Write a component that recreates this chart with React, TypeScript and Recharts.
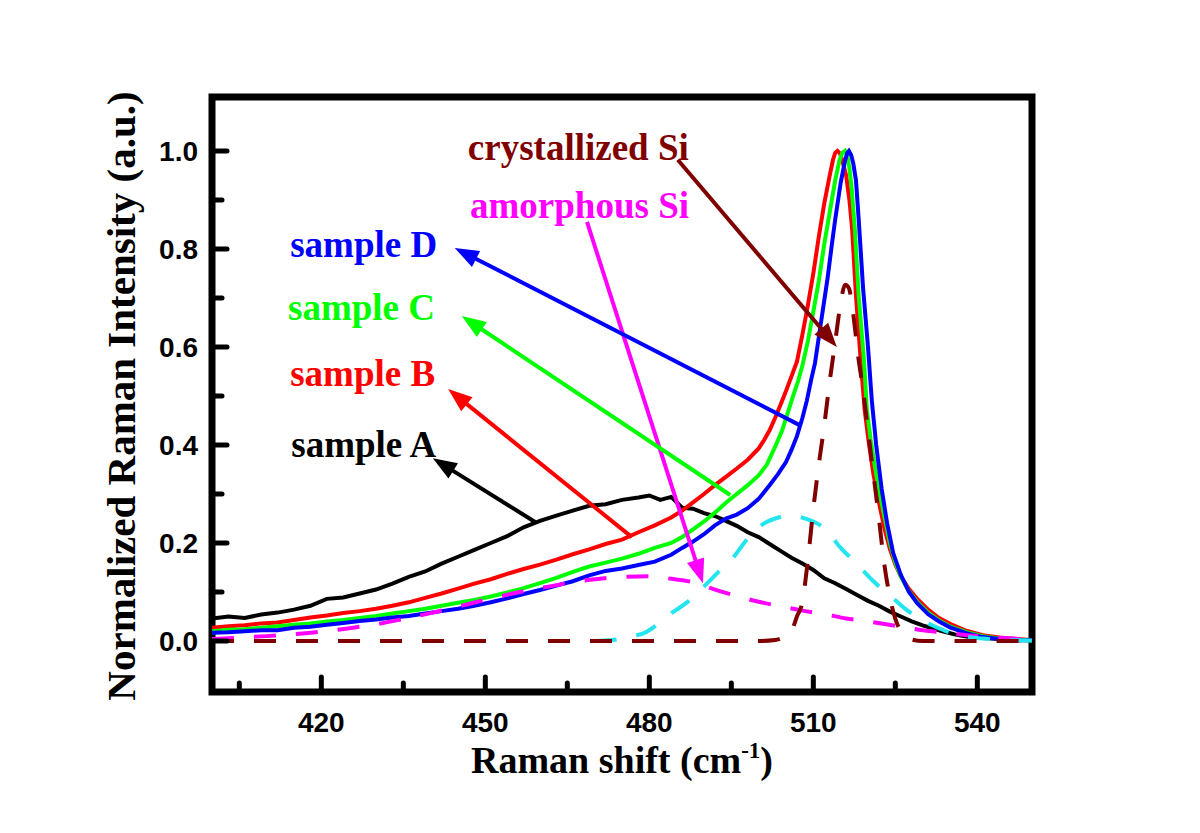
import React from "react";
import {
  LineChart,
  Line,
  XAxis,
  YAxis,
  ReferenceArea,
  ReferenceLine,
  ReferenceDot,
} from "recharts";

// Raman spectra, [shift (cm-1), normalized intensity]
const sampleA: [number, number][] = [
  [400, 0.046], [403, 0.05], [406, 0.047], [409, 0.054], [412, 0.058], [415, 0.064],
  [418, 0.072], [421, 0.086], [424, 0.089], [427, 0.097], [430, 0.105], [433, 0.117],
  [436, 0.131], [439, 0.142], [442, 0.158], [445, 0.172], [448, 0.186], [451, 0.2],
  [454, 0.214], [457, 0.232], [460, 0.245], [463, 0.256], [466, 0.266], [469, 0.276],
  [472, 0.279], [475, 0.288], [478, 0.293], [480, 0.297], [482, 0.288], [484, 0.294],
  [486, 0.272], [488, 0.27], [490, 0.261], [492, 0.255], [494, 0.245], [496, 0.235],
  [498, 0.222], [500, 0.212], [502, 0.198], [504, 0.184], [506, 0.17], [508, 0.158],
  [510, 0.145], [512, 0.128], [514, 0.118], [516, 0.106], [518, 0.094], [520, 0.082],
  [522, 0.072], [524, 0.06], [526, 0.05], [528, 0.04], [530, 0.032], [532, 0.025],
  [534, 0.019], [536, 0.013], [538, 0.009], [541, 0.006], [544, 0.004], [547, 0.003],
  [550, 0.001],
];

const sampleB: [number, number][] = [
  [400, 0.027], [403, 0.03], [406, 0.032], [409, 0.036], [412, 0.038], [415, 0.043],
  [418, 0.048], [421, 0.052], [424, 0.057], [427, 0.061], [430, 0.066], [433, 0.072],
  [436, 0.079], [439, 0.088], [442, 0.097], [445, 0.107], [448, 0.117], [451, 0.126],
  [454, 0.137], [457, 0.147], [460, 0.156], [463, 0.166], [466, 0.177], [469, 0.187],
  [472, 0.198], [475, 0.207], [478, 0.222], [481, 0.236], [484, 0.252], [486, 0.266],
  [488, 0.283], [490, 0.3], [492, 0.318], [494, 0.335], [496, 0.352], [498, 0.37],
  [500, 0.393], [501, 0.41], [502, 0.43], [503, 0.455], [504, 0.482], [505, 0.51],
  [506, 0.54], [507, 0.57], [508, 0.625], [509, 0.685], [510, 0.75], [511, 0.825],
  [512, 0.893], [513, 0.95], [513.6, 0.982], [514, 0.996], [514.4, 1.0], [514.8, 0.996],
  [515.2, 0.985], [516, 0.95], [516.6, 0.9], [517.1, 0.84], [517.8, 0.705], [518.7, 0.567],
  [519.4, 0.471], [520.2, 0.4], [521, 0.34], [522, 0.283], [523, 0.23], [524, 0.188],
  [525, 0.156], [526, 0.132], [527.5, 0.106], [529, 0.086], [531, 0.064], [533, 0.047],
  [535, 0.035], [538, 0.021], [541, 0.012], [544, 0.007], [547, 0.004], [550, 0.002],
];

const sampleC: [number, number][] = [
  [400, 0.02], [403, 0.023], [406, 0.024], [409, 0.027], [412, 0.03], [415, 0.033],
  [418, 0.036], [421, 0.04], [424, 0.043], [427, 0.047], [430, 0.051], [433, 0.056],
  [436, 0.061], [439, 0.066], [442, 0.072], [445, 0.078], [448, 0.084], [451, 0.091],
  [454, 0.099], [457, 0.108], [460, 0.118], [463, 0.129], [466, 0.141], [469, 0.152],
  [472, 0.16], [475, 0.168], [478, 0.178], [481, 0.19], [484, 0.2], [486, 0.212],
  [488, 0.228], [490, 0.244], [492, 0.262], [494, 0.282], [496, 0.3], [498, 0.318],
  [500, 0.338], [501.5, 0.36], [503, 0.396], [504.3, 0.43], [505.3, 0.465], [506.3, 0.5],
  [507.2, 0.53], [508, 0.562], [509, 0.612], [510, 0.672], [511, 0.735], [512, 0.81],
  [513, 0.875], [514, 0.94], [514.8, 0.982], [515.3, 0.996], [515.8, 1.0], [516.2, 0.99],
  [516.6, 0.965], [517, 0.925], [517.6, 0.839], [518.3, 0.703], [519.3, 0.567],
  [519.8, 0.471], [520.5, 0.41], [521.5, 0.34], [522.7, 0.27], [524, 0.2], [525, 0.16],
  [526, 0.132], [527.5, 0.101], [529, 0.08], [531, 0.058], [533, 0.042], [535, 0.03],
  [538, 0.018], [541, 0.01], [544, 0.005], [547, 0.003], [550, 0.001],
];

const sampleD: [number, number][] = [
  [400, 0.017], [403, 0.018], [406, 0.02], [409, 0.022], [412, 0.022], [415, 0.027],
  [418, 0.029], [421, 0.033], [424, 0.037], [427, 0.041], [430, 0.044], [433, 0.048],
  [436, 0.051], [439, 0.056], [442, 0.061], [445, 0.066], [448, 0.072], [451, 0.079],
  [454, 0.087], [457, 0.096], [460, 0.104], [463, 0.113], [466, 0.122], [469, 0.134],
  [472, 0.143], [475, 0.148], [478, 0.155], [481, 0.162], [484, 0.176], [486, 0.19],
  [488, 0.203], [490, 0.218], [492, 0.236], [494, 0.25], [496, 0.258], [498, 0.271],
  [500, 0.29], [502, 0.318], [503.5, 0.34], [505, 0.365], [506, 0.39], [507, 0.418],
  [508, 0.455], [508.8, 0.49], [509.6, 0.533], [510.3, 0.567], [511.4, 0.65],
  [512.6, 0.74], [513.4, 0.81], [514, 0.86], [515, 0.935], [515.8, 0.98], [516.2, 0.996],
  [516.5, 1.0], [516.9, 0.992], [517.3, 0.975], [517.8, 0.94], [518.3, 0.86], [519.1, 0.72],
  [520, 0.6], [520.7, 0.49], [521.5, 0.4], [522.5, 0.31], [523.5, 0.24], [524.6, 0.18],
  [526, 0.135], [527.5, 0.1], [529, 0.077], [531, 0.055], [533, 0.04], [535, 0.028],
  [538, 0.016], [541, 0.008], [544, 0.004], [547, 0.001], [550, 0.002],
];

// fitted components (dashed)
const amorphousFit: [number, number][] = [
  [400, 0.004], [405, 0.007], [410, 0.01], [415, 0.014], [420, 0.019], [425, 0.026],
  [430, 0.034], [435, 0.045], [440, 0.057], [445, 0.07], [450, 0.084], [455, 0.097],
  [460, 0.108], [465, 0.118], [470, 0.126], [475, 0.131], [480, 0.132], [484, 0.127],
  [488, 0.12], [492, 0.105], [496, 0.092], [500, 0.08], [504, 0.071], [508, 0.062],
  [512, 0.055], [516, 0.046], [520, 0.04], [525, 0.031], [530, 0.022], [535, 0.016],
  [540, 0.01], [545, 0.006], [550, 0.003],
];

const middleFit: [number, number][] = [
  [470, 0.0], [474, 0.003], [477, 0.01], [479, 0.016], [481, 0.03], [483, 0.049],
  [485, 0.064], [487, 0.08], [489, 0.1], [490.6, 0.118], [493, 0.145], [495.4, 0.171],
  [497, 0.195], [499, 0.222], [501, 0.24], [503, 0.25], [505, 0.255], [507, 0.254],
  [509, 0.248], [511, 0.238], [513, 0.218], [515, 0.19], [517, 0.168], [519, 0.145],
  [521, 0.122], [523, 0.102], [525, 0.083], [527, 0.064], [529, 0.049], [531, 0.036],
  [533, 0.026], [535, 0.017], [538, 0.009], [541, 0.005], [545, 0.002], [550, 0.001],
];

const crystallineFit: [number, number][] = [
  [400, 0], [420, 0], [440, 0], [460, 0], [480, 0], [500, 0], [503, 0.002], [504, 0.005],
  [505, 0.01], [506, 0.02], [507, 0.05], [508, 0.08], [509, 0.165], [510, 0.27],
  [511, 0.36], [512, 0.44], [513, 0.53], [514, 0.61], [515, 0.69], [515.8, 0.727],
  [516.5, 0.72], [517.2, 0.675], [518.3, 0.573], [519, 0.52], [520, 0.43], [521, 0.34],
  [522, 0.25], [523, 0.155], [524, 0.09], [525, 0.045], [526, 0.02], [527, 0.008],
  [528, 0.003], [530, 0], [540, 0], [550, 0],
];

const xMajor = [420, 450, 480, 510, 540];
const xMinor = [405, 435, 465, 495, 525];
const yMajor = [0, 0.2, 0.4, 0.6, 0.8, 1.0];
const yMinor = [0.1, 0.3, 0.5, 0.7, 0.9];

// annotation text, anchored in data units (left end, baseline)
const labels = [
  { text: "crystallized Si", color: "#800000", x: 446.8, y: 0.982 },
  { text: "amorphous Si", color: "#FF00FF", x: 447.2, y: 0.863 },
  { text: "sample D", color: "#0000FF", x: 414.3, y: 0.784 },
  { text: "sample C", color: "#00FF00", x: 413.9, y: 0.655 },
  { text: "sample B", color: "#FF0000", x: 414.3, y: 0.52 },
  { text: "sample A", color: "#000000", x: 414.5, y: 0.376 },
];

// arrows: tail -> head, data units
const arrows = [
  { color: "#800000", from: [485.2, 0.982], to: [514.3, 0.6] },
  { color: "#FF00FF", from: [468.6, 0.855], to: [489.8, 0.118] },
  { color: "#0000FF", from: [507.4, 0.441], to: [444.4, 0.802] },
  { color: "#00FF00", from: [494.8, 0.298], to: [445.7, 0.663] },
  { color: "#FF0000", from: [476.8, 0.212], to: [443.2, 0.514] },
  { color: "#000000", from: [459.1, 0.243], to: [440.4, 0.373] },
];

const Y_MIN = -0.104;
const Y_MAX = 1.11;
const SERIF = '"Liberation Serif", "Times New Roman", serif';
const SANS = '"Liberation Sans", Arial, sans-serif';

const toPoints = (s: [number, number][]) => s.map(([x, y]) => ({ x, y }));

// line with a filled triangular head at the end
const arrowShape = (color: string) => (p: any) => {
  const { x1, y1, x2, y2 } = p;
  const len = Math.hypot(x2 - x1, y2 - y1);
  const ux = (x2 - x1) / len;
  const uy = (y2 - y1) / len;
  const head = 24;
  const half = 9;
  const bx = x2 - ux * head;
  const by = y2 - uy * head;
  const pts = `${x2},${y2} ${bx - uy * half},${by + ux * half} ${bx + uy * half},${by - ux * half}`;
  return (
    <g>
      <line x1={x1} y1={y1} x2={bx + ux * 2} y2={by + uy * 2} stroke={color} strokeWidth={4} />
      <polygon points={pts} fill={color} />
    </g>
  );
};

// inward ticks on bottom and left frame edges
const xTickShape = (len: number) => (p: any) => {
  const yb = Math.max(p.y1, p.y2);
  return <line x1={p.x1} x2={p.x1} y1={yb} y2={yb - len} stroke="#000" strokeWidth={5} strokeLinecap="round" />;
};
const yTickShape = (len: number) => (p: any) => {
  const xl = Math.min(p.x1, p.x2);
  return <line x1={xl} x2={xl + len} y1={p.y1} y2={p.y1} stroke="#000" strokeWidth={5} strokeLinecap="round" />;
};

const xTitle = () => (
  <text x={622} y={773} textAnchor="middle" fontFamily={SERIF} fontWeight="bold" fontSize={38} fill="#000">
    Raman shift (cm
    <tspan fontSize={23} dy={-15}>-1</tspan>
    <tspan dy={15}>)</tspan>
  </text>
);

const yTitle = () => (
  <text
    x={135}
    y={396}
    transform="rotate(-90, 135, 396)"
    textAnchor="middle"
    fontFamily={SERIF}
    fontWeight="bold"
    fontSize={41}
    fill="#000"
  >
    Normalized Raman Intensity (a.u.)
  </text>
);

const tickStyle = { fill: "#000", fontSize: 28, fontWeight: "bold", fontFamily: SANS };

export default function App() {
  return (
    <div style={{ position: "absolute", left: 0, top: 0, width: 1200, height: 833, background: "#fff" }}>
      <LineChart width={1200} height={833} margin={{ top: 97, right: 168, bottom: 81, left: 112 }}>
        <XAxis
          type="number"
          dataKey="x"
          domain={[400, 550]}
          ticks={xMajor}
          interval={0}
          allowDataOverflow
          axisLine={false}
          tickLine={false}
          tickSize={0}
          tickMargin={20}
          height={60}
          tick={tickStyle}
          label={xTitle}
        />
        <YAxis
          type="number"
          domain={[Y_MIN, Y_MAX]}
          ticks={yMajor}
          interval={0}
          allowDataOverflow
          axisLine={false}
          tickLine={false}
          tickSize={0}
          tickMargin={14}
          width={100}
          tick={tickStyle}
          tickFormatter={(v: number) => v.toFixed(1)}
          label={yTitle}
        />

        {/* measured spectra */}
        <Line data={toPoints(sampleA)} dataKey="y" type="linear" stroke="#000000" strokeWidth={4} dot={false} isAnimationActive={false} />
        <Line data={toPoints(sampleB)} dataKey="y" type="linear" stroke="#FF0000" strokeWidth={4} dot={false} isAnimationActive={false} />
        <Line data={toPoints(sampleC)} dataKey="y" type="linear" stroke="#00FF00" strokeWidth={4} dot={false} isAnimationActive={false} />
        <Line data={toPoints(sampleD)} dataKey="y" type="linear" stroke="#0000FF" strokeWidth={4} dot={false} isAnimationActive={false} />

        {/* fit components */}
        <Line data={toPoints(amorphousFit)} dataKey="y" type="monotone" stroke="#FF00FF" strokeWidth={4} strokeDasharray="22 20" dot={false} isAnimationActive={false} />
        <Line data={toPoints(middleFit)} dataKey="y" type="monotone" stroke="#22E5F0" strokeWidth={4} strokeDasharray="22 20" dot={false} isAnimationActive={false} />
        <Line data={toPoints(crystallineFit)} dataKey="y" type="monotone" stroke="#800000" strokeWidth={4} strokeDasharray="22 20" dot={false} isAnimationActive={false} />

        {/* frame */}
        <ReferenceArea x1={400} x2={550} y1={Y_MIN} y2={Y_MAX} fill="none" fillOpacity={0} stroke="#000" strokeWidth={7} />

        {xMajor.map((t) => <ReferenceLine key={`xM${t}`} x={t} shape={xTickShape(15)} />)}
        {xMinor.map((t) => <ReferenceLine key={`xm${t}`} x={t} shape={xTickShape(9)} />)}
        {yMajor.map((t) => <ReferenceLine key={`yM${t}`} y={t} shape={yTickShape(15)} />)}
        {yMinor.map((t) => <ReferenceLine key={`ym${t}`} y={t} shape={yTickShape(10)} />)}

        {arrows.map((a, i) => (
          <ReferenceLine
            key={`arrow${i}`}
            segment={[{ x: a.from[0], y: a.from[1] }, { x: a.to[0], y: a.to[1] }]}
            shape={arrowShape(a.color)}
          />
        ))}

        {labels.map((l) => (
          <ReferenceDot
            key={l.text}
            x={l.x}
            y={l.y}
            r={0}
            shape={(p: any) => (
              <text x={p.cx} y={p.cy} fill={l.color} fontFamily={SERIF} fontWeight="bold" fontSize={37}>
                {l.text}
              </text>
            )}
          />
        ))}
      </LineChart>
    </div>
  );
}
